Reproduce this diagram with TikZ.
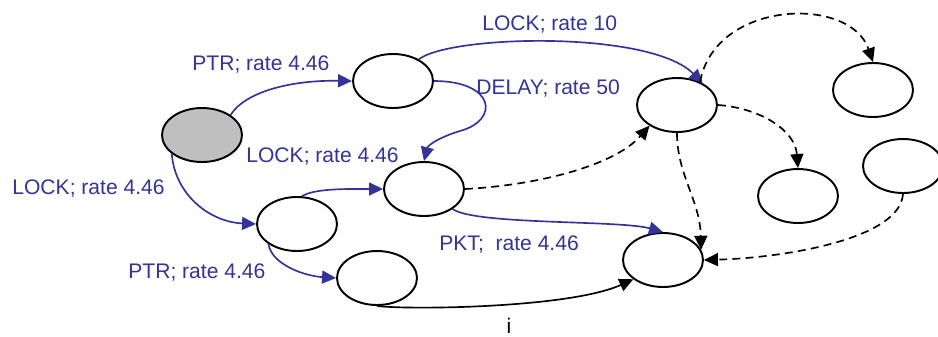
\documentclass[tikz,border=0pt]{standalone}
\usepackage{fontspec}
\setmainfont{Liberation Sans}
\usepackage{xcolor}
\usepackage{tikz}
\usetikzlibrary{arrows.meta,positioning,calc,shapes.geometric}
\definecolor{rateblue}{RGB}{51,51,153}

\begin{document}
\begin{tikzpicture}[x=0.02cm, y=-0.02cm, font=\fontsize{12}{14}\selectfont,
  state/.style={ellipse, draw, line width=1.1pt, minimum width=1.6cm, minimum height=1.08cm, inner sep=0pt},
  trans/.style={rateblue, line width=0.95pt, -{Triangle[length=2.8mm, width=2.6mm]}},
  plain/.style={black, line width=0.95pt, -{Triangle[length=2.8mm, width=2.6mm]}},
  dep/.style={plain, dash pattern=on 4.5pt off 3pt},
  lbl/.style={text=rateblue, inner sep=0pt, anchor=base west}]
\useasboundingbox (0,0) rectangle (938,336);
% states
\node[state, fill=gray!50] (s0) at (202,135) {};
\foreach \n/\x/\y in {s1/393/81, s2/297/224, s3/424/189, s4/377/278, s5/677/105,
                      s6/663/260, s7/798/196, s8/873/90, s9/903/166}
  \node[state] (\n) at (\x,\y) {};
% rated transitions
\draw[trans] (s0.35) .. controls (245,92) and (290,80) .. (s1.west);
\draw[trans] (s0.212) .. controls (175,195) and (210,222) .. (s2.west);
\draw[trans] (s1.east) .. controls (495,81) and (500,120) .. (460,131)
                       .. controls (440,137) and (428,145) .. (s3.north);
\draw[trans] (s1.40) .. controls (450,35) and (650,30) .. (s5.40);
\draw[trans] (s2.80) .. controls (315,188) and (350,189) .. (s3.west);
\draw[trans] (s2.215) .. controls (272,265) and (305,276) .. (s4.west);
\draw[trans] (s3.325) .. controls (475,225) and (620,220) .. (s6.north);
\draw[plain] (s4.south) .. controls (410,310) and (570,308) .. (s6.213);
% dashed transitions
\draw[dep] (s3.east) .. controls (540,185) and (615,165) .. (s5.217);
\draw[dep] (s5.45) .. controls (715,0) and (850,-5) .. (s8.north);
\draw[dep] (s5.east) .. controls (760,108) and (795,130) .. (s7.north);
\draw[dep] (s5.south) .. controls (677,175) and (700,200) .. (s6.15);
\draw[dep] (s9.south) .. controls (900,240) and (780,258) .. (s6.east);
% labels
\node[lbl] (lk10) at (482,30) {LOCK; rate 10};
\node[lbl] (ptr1) at (192,70) {PTR; rate 4.46};
\node[lbl] (dly) at (476,94) {DELAY; rate 50};
\node[lbl] (lk2) at (246,162) {LOCK; rate 4.46};
\node[lbl] (lk1) at (12,194) {LOCK; rate 4.46};
\node[lbl] (pkt) at (439,250) {PKT;\ \ rate 4.46};
\node[lbl] (ptr2) at (128,278) {PTR; rate 4.46};
\node[inner sep=0pt, anchor=base] (ilbl) at (509,333) {i};
\end{tikzpicture}
\end{document}
